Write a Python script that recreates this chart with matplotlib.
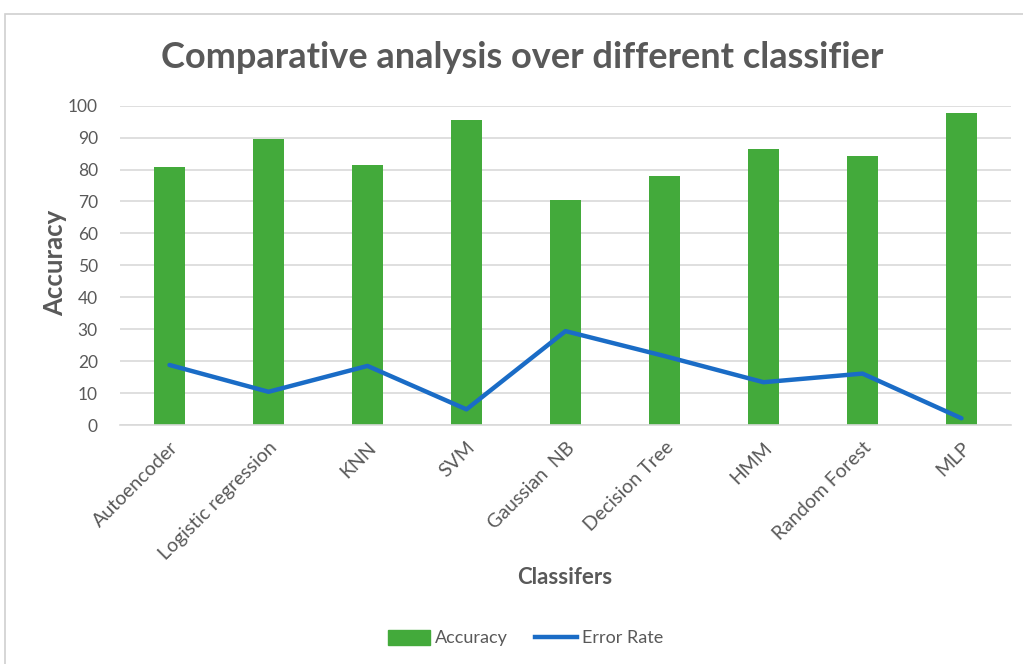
import matplotlib
matplotlib.use("Agg")
import matplotlib.pyplot as plt
from matplotlib.patches import Rectangle
from matplotlib.lines import Line2D
import numpy as np

classifiers = ["Autoencoder", "Logistic regression", "KNN", "SVM", "Gaussian  NB",
               "Decision Tree", "HMM", "Random Forest", "MLP"]
accuracy = [80.9, 89.6, 81.3, 95.4, 70.5, 78.1, 86.5, 84.2, 97.7]
error_rate = [18.8, 10.4, 18.5, 4.9, 29.4, 21.6, 13.4, 16.1, 2.1]
y_ticks = list(range(0, 101, 10))

bar_color = "#43aa3b"
line_color = "#1a6cc6"
text_color = "#595959"
grid_color = "#d9d9d9"

plt.rcParams["font.family"] = ["Lato", "DejaVu Sans"]

W, H = 1023, 664
fig = plt.figure(figsize=(W / 100, H / 100), dpi=100)

# outer chart frame
fig.patches.append(Rectangle((5 / W, -0.05), 1.1, 1 - 14 / H + 0.05, transform=fig.transFigure,
                             fill=False, edgecolor="#d0d0d0", linewidth=1.2))

left, right = 120 / W, 1011 / W
bottom, top = 1 - 425 / H, 1 - 105.7 / H
ax = fig.add_axes([left, bottom, right - left, top - bottom])

x = np.arange(len(classifiers))
ax.bar(x, accuracy, width=0.31, color=bar_color, zorder=2, label="Accuracy")
ax.plot(x, error_rate, color=line_color, linewidth=3.2, zorder=3,
        solid_capstyle="round", solid_joinstyle="round", label="Error Rate")

ax.set_xlim(-0.5, len(classifiers) - 0.5)
ax.set_ylim(0, 100)
ax.set_yticks(y_ticks)
ax.yaxis.grid(True, color=grid_color, linewidth=1.2, zorder=0)
ax.set_axisbelow(True)
for s in ["top", "right", "left"]:
    ax.spines[s].set_visible(False)
ax.spines["bottom"].set_color(grid_color)
ax.spines["bottom"].set_linewidth(1.2)
ax.tick_params(axis="both", length=0, colors=text_color, labelsize=12.5)
ax.tick_params(axis="y", pad=16)
ax.set_xticks(x)
ax.set_xticklabels(classifiers, rotation=45, ha="right", rotation_mode="anchor",
                   fontsize=14, color=text_color)
ax.tick_params(axis="x", pad=10)

fig.text(55 / W, 1 - 263 / H, "Accuracy", ha="center", va="center", rotation=90,
         fontsize=18.5, fontweight="bold", color=text_color)
fig.text(565 / W, 1 - 578 / H, "Classifers", ha="center", va="center",
         fontsize=16, fontweight="bold", color=text_color)
fig.text(522 / W, 1 - 57 / H, "Comparative analysis over different classifier",
         ha="center", va="center", fontsize=26, fontweight="bold", color=text_color)

handles = [Rectangle((0, 0), 1, 1, color=bar_color),
           Line2D([0], [0], color=line_color, linewidth=3.2)]
fig.legend(handles, ["Accuracy", "Error Rate"], loc="center",
           bbox_to_anchor=(526 / W, 1 - 638 / H), ncol=2, frameon=False,
           fontsize=13, labelcolor=text_color, handlelength=2.3, handleheight=0.9,
           columnspacing=1.5, handletextpad=0.3)

fig.savefig("out.png", dpi=100, facecolor="white")
